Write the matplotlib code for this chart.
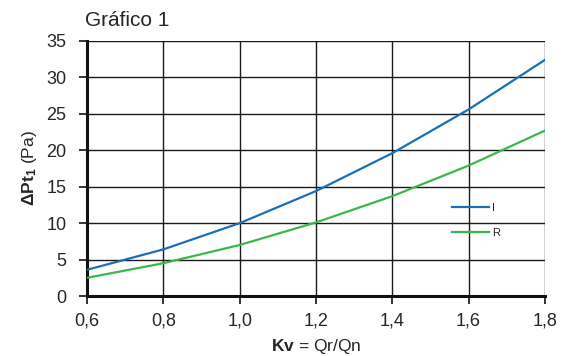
import matplotlib
matplotlib.use("Agg")
import matplotlib.pyplot as plt

kv = [0.6, 0.8, 1.0, 1.2, 1.4, 1.6, 1.8]
serie_I = [3.6, 6.4, 10.0, 14.4, 19.6, 25.6, 32.4]
serie_R = [2.5, 4.5, 7.0, 10.1, 13.7, 17.9, 22.7]
x_ticks = [0.6, 0.8, 1.0, 1.2, 1.4, 1.6, 1.8]
x_labels = ["0,6", "0,8", "1,0", "1,2", "1,4", "1,6", "1,8"]
y_ticks = [0, 5, 10, 15, 20, 25, 30, 35]

plt.rcParams['font.family'] = ['Liberation Sans', 'DejaVu Sans']
plt.rcParams['mathtext.fontset'] = 'custom'
plt.rcParams['mathtext.rm'] = 'Liberation Sans'
plt.rcParams['mathtext.bf'] = 'Liberation Sans:bold'
plt.rcParams['mathtext.it'] = 'Liberation Sans:italic'

txt = '#262626'
fig = plt.figure(figsize=(5.73, 3.56), dpi=100)
ax = fig.add_axes([0.152, 0.1685, 0.799, 0.7165])

ax.plot(kv, serie_I, color='#1a6fb8', lw=1.6, label='I', zorder=3)
ax.plot(kv, serie_R, color='#3db54a', lw=1.6, label='R', zorder=3)

ax.set_xlim(0.6, 1.8)
ax.set_ylim(0, 35)
ax.set_xticks(x_ticks)
ax.set_xticklabels(x_labels)
ax.set_yticks(y_ticks)
ax.grid(True, color='#1a1a1a', lw=1.0, zorder=1)
for s in ['top', 'right']:
    ax.spines[s].set_visible(False)
ax.spines['left'].set_linewidth(2.2)
ax.spines['bottom'].set_linewidth(2.2)
ax.spines['left'].set_color('#111111')
ax.spines['bottom'].set_color('#111111')
ax.tick_params(axis='both', labelsize=13, colors='#111111', labelcolor=txt, width=1.2, length=6)
ax.tick_params(axis='x', pad=6)
ax.tick_params(axis='y', pad=9)

ax.set_xlabel(r'$\mathbf{Kv}$ = Qr/Qn', fontsize=12.5, color=txt, labelpad=5)
ax.set_ylabel(r'$\mathbf{\Delta Pt_1}$ (Pa)', fontsize=12.5, color=txt, labelpad=5)
fig.text(0.148, 0.942, 'Gráfico 1', fontsize=15, color=txt, ha='left', va='center')

leg = ax.legend(loc='center left', bbox_to_anchor=(0.775, 0.295), frameon=False,
                fontsize=8, handlelength=3.3, labelspacing=1.35, handletextpad=0.35)
for t in leg.get_texts():
    t.set_color(txt)

fig.savefig('out.png', dpi=100)
